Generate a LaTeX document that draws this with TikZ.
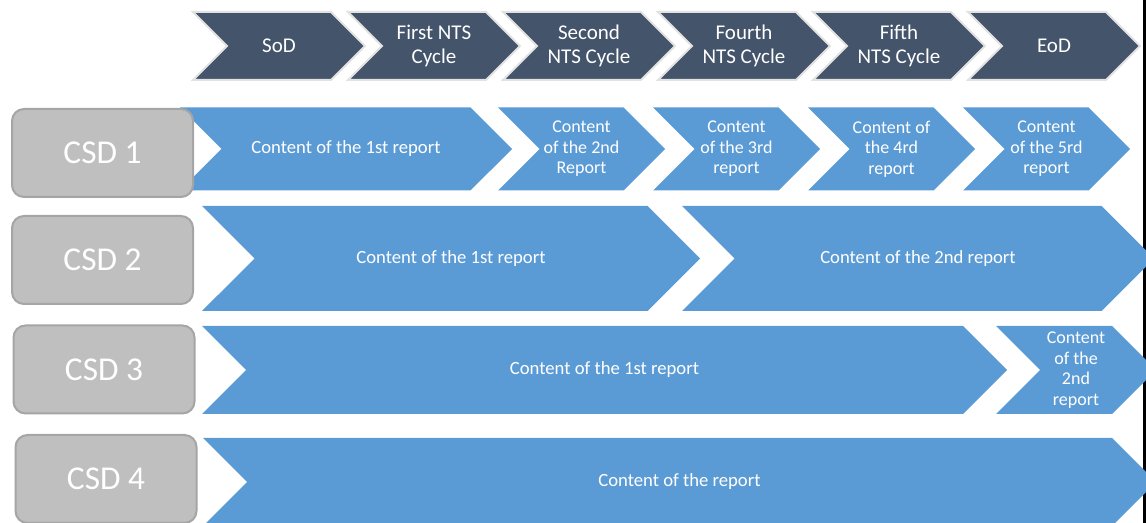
\documentclass[tikz,border=0pt]{standalone}
\usepackage{fontspec}
\setsansfont{Carlito}
\usepackage{xcolor}
\definecolor{PhaseSlate}{HTML}{44546A}
\definecolor{PhaseEdge}{HTML}{E2E2E2}
\definecolor{ReportBlue}{HTML}{5B9BD5}
\definecolor{CsdGray}{HTML}{BFBFBF}
\definecolor{CsdEdge}{HTML}{A5A5A5}
\usetikzlibrary{shapes.symbols}
\tikzset{
  % Chevron styles
  phasechev/.style={signal, signal to=east, signal from=west, signal pointer angle=90, draw=PhaseEdge, line width=1.5pt, fill=PhaseSlate, text=white, inner sep=0pt, minimum width=129pt, minimum height=51pt, font=\sffamily\fontsize{15.75}{17.6}\selectfont, align=center},
  reportchev/.style={signal, signal to=east, signal from=west, signal pointer angle=90, fill=ReportBlue, text=white, inner sep=0pt, font=\sffamily\fontsize{14}{16}\selectfont, align=center},
  smallchev/.style={reportchev, font=\sffamily\fontsize{13.5}{15.4}\selectfont},
  % Box styles
  csdbox/.style={rectangle, rounded corners=9pt, draw=CsdEdge, line width=1.5pt, fill=CsdGray, text=white, minimum width=135.75pt, minimum height=66pt, font=\sffamily\fontsize{25}{30}\selectfont}
}
\begin{document}
\begin{tikzpicture}[x=0.75pt, y=-0.75pt]
  \useasboundingbox (0,0) rectangle (1146,523);
  \clip (0,0) rectangle (1146,523);

  % Right edge rule
  \draw[line width=2.25pt] (1144.5,0) -- (1144.5,523);

  % Phase header
  \node[phasechev] (sod) at (279,46) {SoD};
  \node[phasechev] (nts1) at (434,46) {First NTS\\Cycle};
  \node[phasechev] (nts2) at (589,46) {Second\\NTS Cycle};
  \node[phasechev] (nts4) at (744,46) {Fourth\\NTS Cycle};
  \node[phasechev] (nts5) at (899,46) {Fifth\\NTS Cycle};
  \node[phasechev] (eod) at (1054,46) {EoD};

  % CSD 1 reports
  \node[reportchev, minimum width=249pt, minimum height=62.25pt] (r1a) at (346,149) {Content of the 1st report};
  \node[smallchev, minimum width=125.25pt, minimum height=62.25pt] (r1b) at (581.5,149) {Content\\of the 2nd\\Report};
  \node[smallchev, minimum width=125.25pt, minimum height=62.25pt] (r1c) at (736.5,149) {Content\\of the 3rd\\report};
  \node[smallchev, minimum width=125.25pt, minimum height=62.25pt] (r1d) at (891.5,149) {Content of\\the 4rd\\report};
  \node[smallchev, minimum width=125.25pt, minimum height=62.25pt] (r1e) at (1046.5,149) {Content\\of the 5rd\\report};

  % CSD 2 reports
  \node[reportchev, minimum width=373.5pt, minimum height=78.75pt] (r2a) at (451,258.5) {Content of the 1st report};
  \node[reportchev, minimum width=354pt, minimum height=78.75pt] (r2b) at (918,258.5) {Content of the 2nd report};

  % CSD 3 reports
  \node[reportchev, minimum width=603.75pt, minimum height=66pt] (r3a) at (604.5,370) {Content of the 1st report};
  \node[smallchev, minimum width=120pt, minimum height=66pt] (r3b) at (1076,370) {Content\\of the\\2nd\\report};

  % CSD 4 report
  \node[reportchev, minimum width=714.75pt, minimum height=66pt] (r4a) at (679.5,482) {Content of the report};

  % CSD labels
  \node[csdbox] (csd1) at (102.5,153) {CSD 1};
  \node[csdbox] (csd2) at (102.5,260) {CSD 2};
  \node[csdbox] (csd3) at (104,369.5) {CSD 3};
  \node[csdbox] (csd4) at (106,479) {CSD 4};
\end{tikzpicture}
\end{document}
